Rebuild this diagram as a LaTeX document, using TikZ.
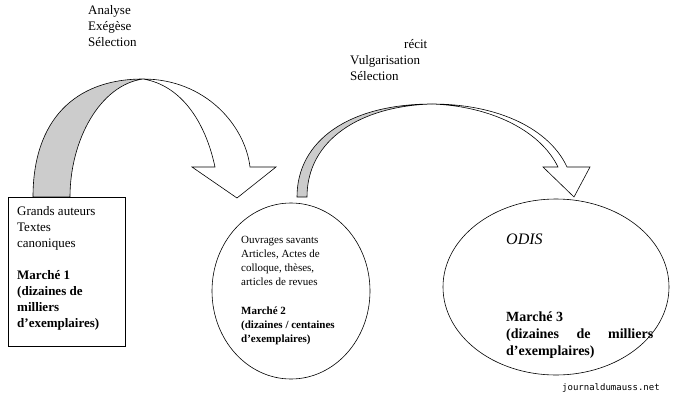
\documentclass[tikz,border=0pt]{standalone}
\usepackage{fontspec}
\setmainfont{Liberation Serif}
\newfontfamily\wmfont{DejaVu Sans Mono}
\usetikzlibrary{positioning}
\tikzset{
  band/.style={draw=black,line width=0.6pt},
  txt/.style={align=left,inner sep=0pt,anchor=north west,font=\fontsize{13}{16}\selectfont},
  small/.style={align=left,inner sep=0pt,anchor=north west,font=\fontsize{11}{14}\selectfont}
}
\begin{document}
\begin{tikzpicture}[x=1pt,y=-1pt]
\useasboundingbox (0,0) rectangle (678,402);
% first arrow
\fill[band,fill=black!20] (33,197) .. controls (33,120) and (75,79) .. (143,79)
  .. controls (100,85) and (70,140) .. (70,197) -- cycle;
\filldraw[band,fill=white] (143,79) .. controls (205,79) and (245,125) .. (250,167)
  -- (276,167) -- (237,198) -- (192,167) -- (215,167)
  .. controls (205,120) and (180,85) .. (143,79);
% second arrow
\fill[band,fill=black!20] (297,197) .. controls (297,140) and (350,104) .. (432,104)
  .. controls (360,106) and (307,140) .. (307,197) -- cycle;
\filldraw[band,fill=white] (432,104) .. controls (500,104) and (550,130) .. (567,167)
  -- (590,167) -- (574,197) -- (543,167) -- (558,167)
  .. controls (540,130) and (490,106) .. (432,104);
% texts above arrows
\node[txt] (ops1) at (88,5) {Analyse\\Exégèse\\Sélection};
\node[txt] (recit) at (404,39) {récit};
\node[txt] (ops2) at (350,55) {Vulgarisation\\Sélection};
% market 1
\node[draw,line width=0.6pt,fill=white,minimum width=117pt,minimum height=149pt,anchor=north west] (m1) at (8,197) {};
\node[txt] (m1t) at (17,206) {Grands auteurs\\Textes\\canoniques\\[16pt]\textbf{Marché 1}\\\textbf{(dizaines de}\\\textbf{milliers}\\\textbf{d'exemplaires)}};
% market 2
\draw[line width=0.6pt,fill=white] (291,291) ellipse (79 and 88);
\node[small] (m2t) at (241,236) {Ouvrages savants\\Articles, Actes de\\colloque, thèses,\\articles de revues\\[15pt]\textbf{Marché 2}\\\textbf{(dizaines / centaines}\\\textbf{d'exemplaires)}};
% market 3
\draw[line width=0.6pt,fill=white] (556,287) ellipse (113 and 88);
\node[txt,font=\itshape\fontsize{16}{18}\selectfont] (odis) at (506,234) {ODIS};
\node[txt,font=\bfseries\fontsize{14}{17}\selectfont] (m3t) at (506,312) {Marché 3\\\hbox to 147pt{(dizaines\hfill de\hfill milliers}\\d'exemplaires)};
\node[anchor=west,inner sep=0pt,font=\wmfont\fontsize{9}{10}\selectfont] (wm) at (562,388) {journaldumauss.net};
\end{tikzpicture}
\end{document}
